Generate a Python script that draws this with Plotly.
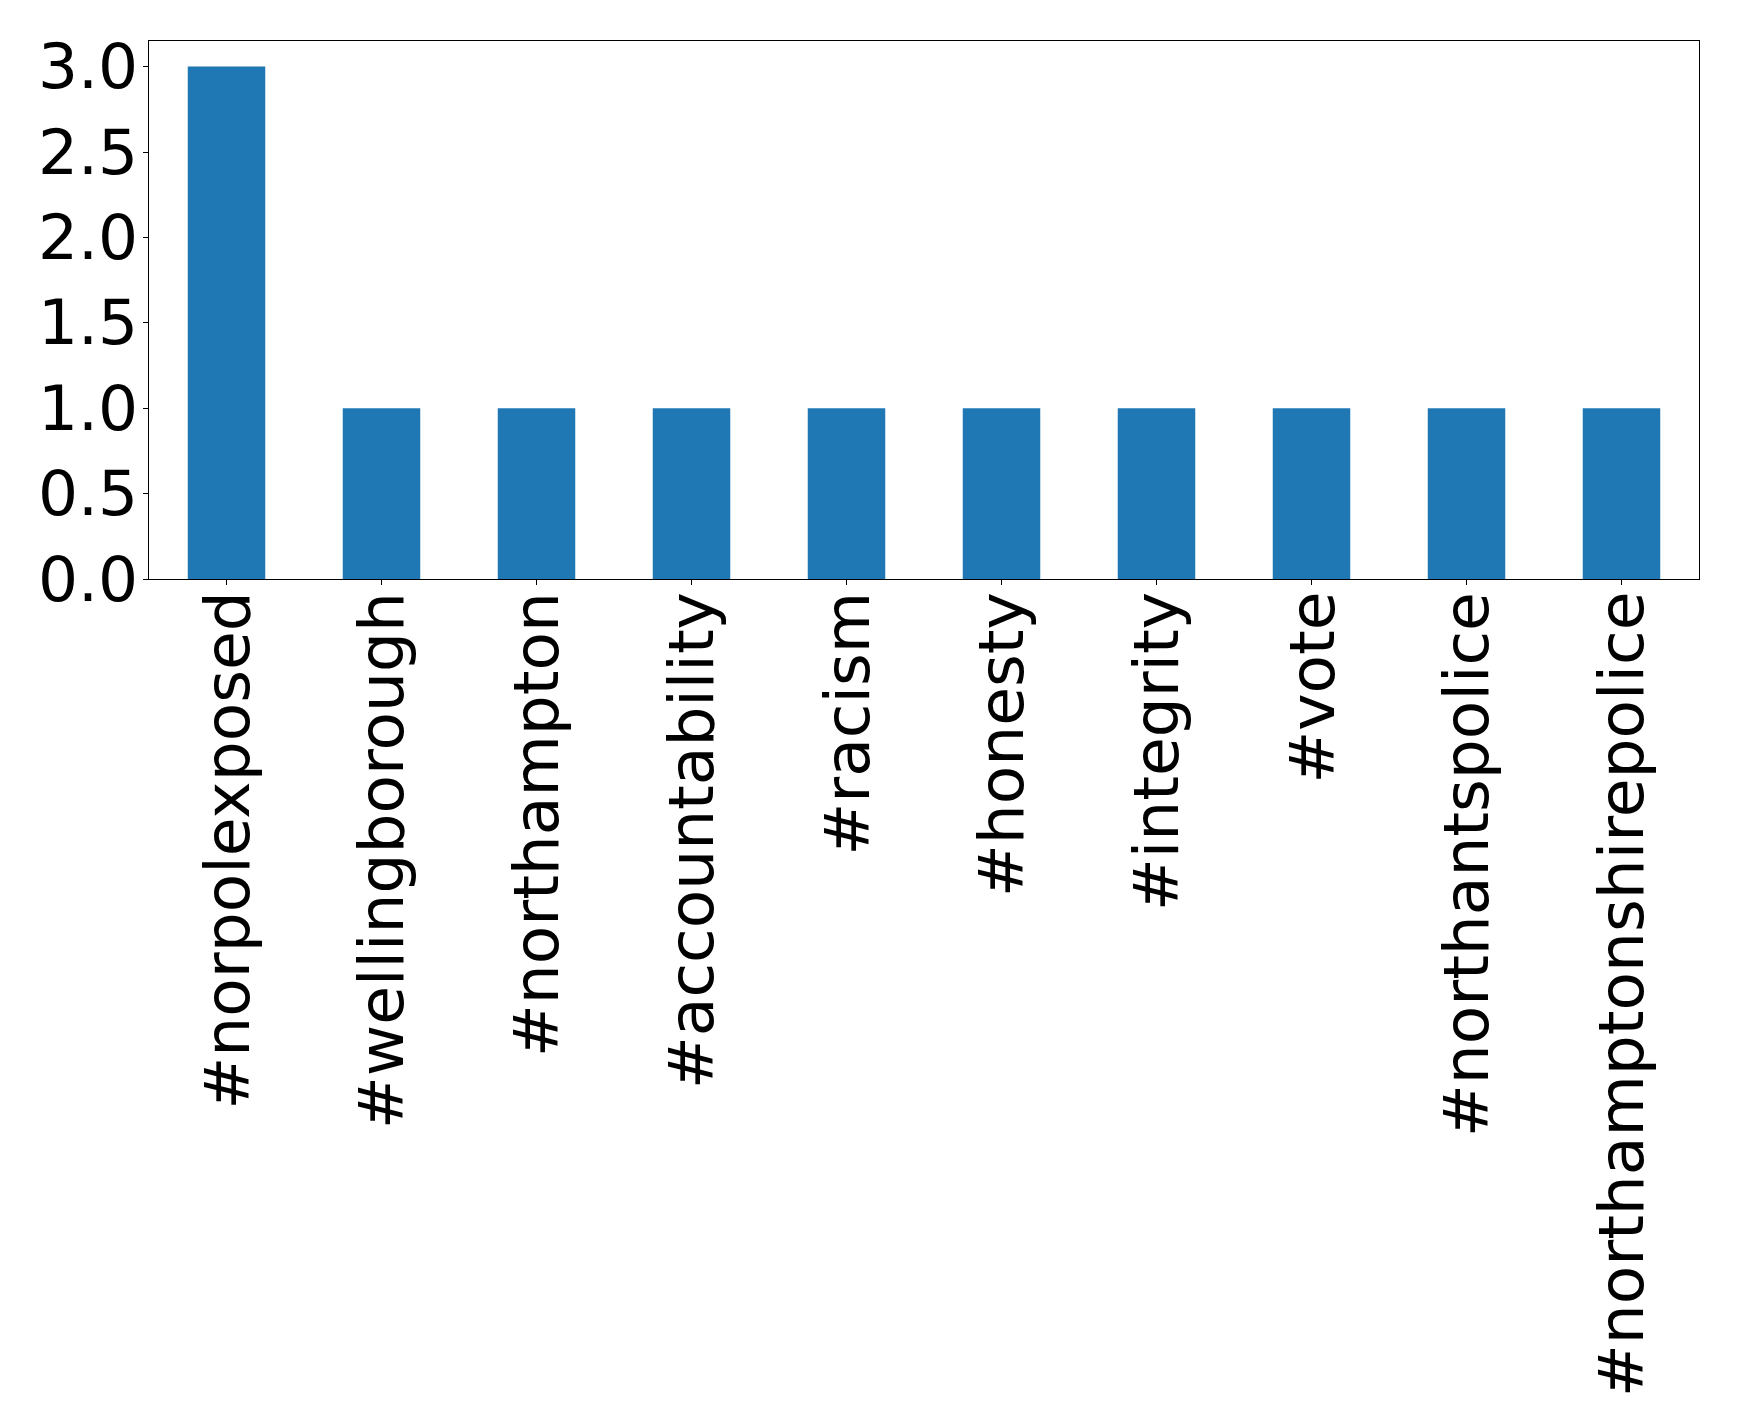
import plotly.graph_objects as go

categories = ['#norpolexposed', '#wellingborough', '#northampton', '#accountability',
              '#racism', '#honesty', '#integrity', '#vote', '#northantspolice',
              '#northamptonshirepolice']
counts = [3, 1, 1, 1, 1, 1, 1, 1, 1, 1]
y_ticks = [0.0, 0.5, 1.0, 1.5, 2.0, 2.5, 3.0]
y_tick_labels = ['0.0', '0.5', '1.0', '1.5', '2.0', '2.5', '3.0']

FONT = 'DejaVu Sans'
FS = 63

fig = go.Figure(go.Bar(x=list(range(len(categories))), y=counts, width=0.5,
                       marker=dict(color='#1f77b4', line=dict(width=0))))

# x category labels, rotated, hanging below the axis
for i, lab in enumerate(categories):
    fig.add_annotation(x=i, y=0, xref='x', yref='y', text=lab, showarrow=False,
                       textangle=-90, xanchor='center', yanchor='top', yshift=-11,
                       font=dict(family=FONT, size=FS, color='black'))

# y tick labels, right-aligned next to the axis
for v, lab in zip(y_ticks, y_tick_labels):
    fig.add_annotation(x=0, y=v, xref='paper', yref='y', text=lab, showarrow=False,
                       xanchor='right', yanchor='middle', xshift=-9,
                       font=dict(family=FONT, size=FS, color='black'))

# page body has an 8px default margin, so size the figure to fill the rest
fig.update_layout(
    width=1731, height=1419,
    margin=dict(l=141, r=40, t=33, b=848),
    paper_bgcolor='white', plot_bgcolor='white',
    font=dict(family=FONT, size=FS, color='black'),
    showlegend=False,
)
fig.update_xaxes(
    range=[-0.5, 9.5], tickmode='array', tickvals=list(range(len(categories))),
    showticklabels=False, showline=True, linecolor='black', linewidth=1,
    mirror=True, ticks='outside', ticklen=5, tickcolor='black', showgrid=False,
    zeroline=False,
)
fig.update_yaxes(
    range=[0, 3.15], tickmode='array', tickvals=y_ticks,
    showticklabels=False, showline=True, linecolor='black', linewidth=1,
    mirror=True, ticks='outside', ticklen=5, tickcolor='black', showgrid=False,
    zeroline=False,
)
fig.write_html('out.html')
